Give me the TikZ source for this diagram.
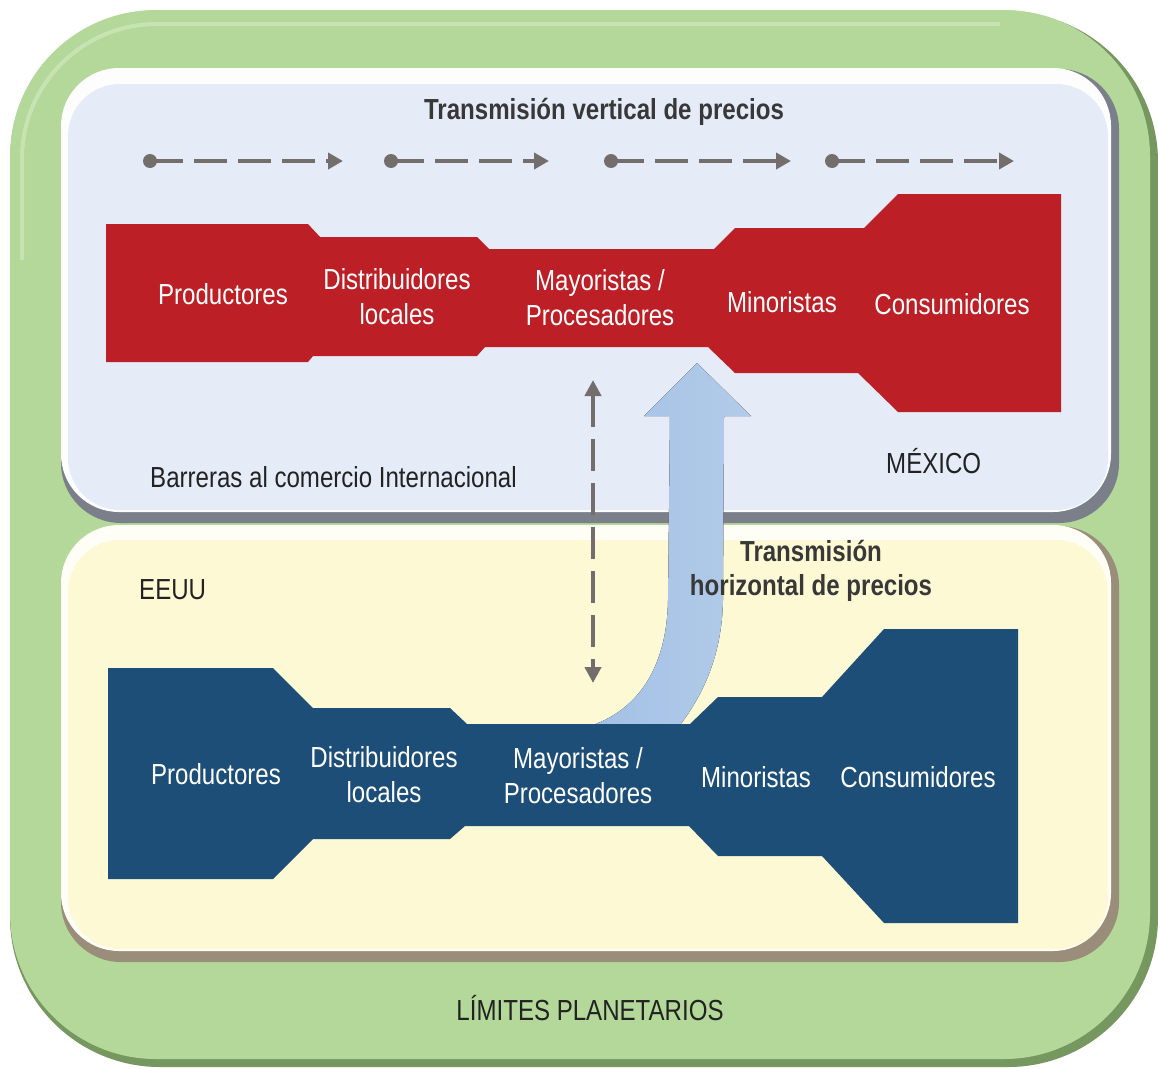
\documentclass[tikz,border=0pt]{standalone}
\usepackage{fontspec}
\setmainfont{Liberation Sans}[FakeStretch=0.83]
\usetikzlibrary{arrows.meta}

\definecolor{greenmain}{HTML}{B3D899}
\definecolor{greenrim}{HTML}{76975F}
\definecolor{greenlight}{HTML}{D2E9BE}
\definecolor{panelblue}{HTML}{E5ECF8}
\definecolor{bluerim}{HTML}{7B7F89}
\definecolor{panelyellow}{HTML}{FDF9D4}
\definecolor{yellowrim}{HTML}{9A8D7A}
\definecolor{chainred}{HTML}{BC1F25}
\definecolor{chainblue}{HTML}{1D4E77}
\definecolor{arrowgray}{HTML}{736E6C}
\definecolor{flowblueL}{HTML}{A3C1E6}
\definecolor{flowblueR}{HTML}{B3CBE8}
\definecolor{labelgray}{HTML}{222222}
\definecolor{titlegray}{HTML}{383838}

\tikzset{
  stage/.style={font=\fontsize{29}{35}\selectfont, text=white, align=center, anchor=base, inner sep=0pt},
  plainlabel/.style={font=\fontsize{29}{35}\selectfont, text=labelgray, inner sep=0pt, anchor=base west},
  heading/.style={font=\bfseries\fontsize{29}{34}\selectfont, text=titlegray, align=center, anchor=base, inner sep=0pt},
  chainarrow/.style={arrowgray, line width=4.5pt, dash pattern=on 33pt off 11pt, -{Triangle[length=15pt,width=16pt]}},
  linkarrow/.style={arrowgray, line width=4pt, dash pattern=on 32pt off 12pt,
    {Triangle[length=16pt,width=16pt]}-{Triangle[length=16pt,width=16pt]}},
  startdot/.style={circle, fill=arrowgray, inner sep=0pt, minimum size=14pt},
}

\begin{document}
\begin{tikzpicture}[x=1pt,y=-1pt]
\useasboundingbox (0,0) rectangle (1158,1068);
\fill[white] (0,0) rectangle (1158,1068);

% outer frame: planetary limits
\fill[greenrim, rounded corners=150pt] (10,12) rectangle (1158,1067);
\fill[greenmain, rounded corners=146pt] (10,10) rectangle (1150,1059);
\draw[greenlight, line width=4pt, rounded corners=135pt, opacity=0.7] (22,260) -- (22,24) -- (1000,24);

% Mexico panel
\fill[bluerim, rounded corners=60pt] (61,69) rectangle (1119,523);
\fill[white!92!panelblue, rounded corners=58pt] (61,68) rectangle (1111,512);
\fill[panelblue, rounded corners=52pt] (68,84) rectangle (1108,510);

% United States panel
\fill[yellowrim, rounded corners=60pt] (61,526) rectangle (1119,962);
\fill[white!80!panelyellow, rounded corners=58pt] (61,525) rectangle (1111,951);
\fill[panelyellow, rounded corners=52pt] (68,540) rectangle (1108,949);

% horizontal price transmission arrow
\fill[left color=flowblueL, right color=flowblueR]
  (593,725) .. controls (640,708) and (667,665) .. (668,600)
  -- (670,416) -- (644,416) -- (697,363) -- (751,416) -- (724,416)
  -- (723,600) .. controls (722,655) and (703,695) .. (680,725) -- cycle;

% Mexican chain
\fill[chainred] (106,224) -- (308,224) -- (320,237) -- (477,237) -- (489,249)
  -- (714,249) -- (735,228) -- (864,228) -- (898,194) -- (1061,194)
  -- (1061,412) -- (898,412) -- (858,373) -- (735,373) -- (708,347)
  -- (485,347) -- (477,356) -- (313,356) -- (308,362) -- (106,362) -- cycle;

% US chain
\fill[chainblue] (108,668) -- (273,668) -- (313,708) -- (450,708) -- (467,724)
  -- (690,724) -- (718,697) -- (822,697) -- (884,629) -- (1018,629)
  -- (1018,923) -- (884,923) -- (822,856) -- (718,856) -- (689,826)
  -- (465,826) -- (450,839) -- (313,839) -- (273,879) -- (108,879) -- cycle;

% stage labels, Mexico (base anchor sits on the last line)
\node[stage] (mxprod) at (223,304) {Productores};
\node[stage] (mxdist) at (397,324) {Distribuidores\\locales};
\node[stage] (mxmay)  at (600,325) {Mayoristas /\\Procesadores};
\node[stage] (mxmin)  at (782,312) {Minoristas};
\node[stage] (mxcons) at (952,314) {Consumidores};

% stage labels, US
\node[stage] (usprod) at (216,784) {Productores};
\node[stage] (usdist) at (384,802) {Distribuidores\\locales};
\node[stage] (usmay)  at (578,803) {Mayoristas /\\Procesadores};
\node[stage] (usmin)  at (756,787) {Minoristas};
\node[stage] (uscons) at (918,787) {Consumidores};

% headings and region labels
\node[heading] (vtitle) at (604,119) {Transmisión vertical de precios};
\node[heading] (htitle) at (811,595) {Transmisión\\horizontal de precios};
\node[plainlabel] (barriers) at (150,487) {Barreras al comercio Internacional};
\node[plainlabel] (mx) at (886,473) {MÉXICO};
\node[plainlabel] (us) at (139,599) {EEUU};
\node[plainlabel, anchor=base] (limits) at (590,1020) {LÍMITES PLANETARIOS};

% vertical transmission arrows
\node[startdot] (s1) at (150,161) {};
\node[startdot] (s2) at (391,161) {};
\node[startdot] (s3) at (611,161) {};
\node[startdot] (s4) at (832,161) {};
\coordinate (e1) at (343,161);
\coordinate (e2) at (549,161);
\coordinate (e3) at (791,161);
\coordinate (e4) at (1014,161);
\draw[chainarrow] (s1.center) -- (e1);
\draw[chainarrow] (s2.center) -- (e2);
\draw[chainarrow] (s3.center) -- (e3);
\draw[chainarrow] (s4.center) -- (e4);

% link between the two wholesale stages
\coordinate (lt) at (593,380);
\coordinate (lb) at (593,683);
\draw[linkarrow] (lt) -- (lb);
\end{tikzpicture}
\end{document}
